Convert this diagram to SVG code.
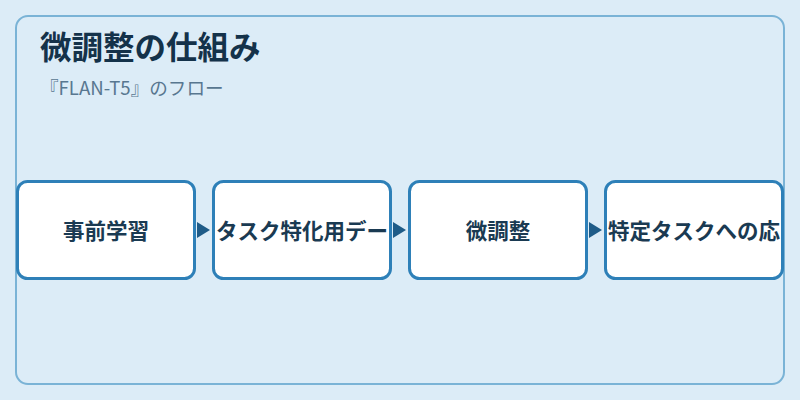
<svg xmlns="http://www.w3.org/2000/svg" width="800" height="400" viewBox="0 0 800 400">
<style>
.title{font-family:"Noto Sans CJK JP","Noto Sans",sans-serif;font-size:31.5px;font-weight:700;fill:#14324a}
.sub{font-family:"Noto Sans CJK JP","Noto Sans",sans-serif;font-size:18.6px;fill:#587790}
.box{fill:#ffffff;stroke:#2e80b8;stroke-width:3}
.lbl{font-family:"Noto Sans CJK JP","Noto Sans",sans-serif;font-size:21.5px;font-weight:700;fill:#1a3a52;text-anchor:middle}
.arr{fill:#1f5c88}
</style>
<rect x="0" y="0" width="800" height="400" fill="#dcecf7"/>
<rect x="16" y="16" width="768" height="368" rx="12" fill="#dcecf7" stroke="#7ab3d6" stroke-width="2"/>
<text class="title" x="40" y="59">微調整の仕組み</text>
<text class="sub" x="40" y="95">『FLAN-T5』のフロー</text>
<g id="connectors">
<polygon class="arr" points="197,222 210,230 197,238"/>
<polygon class="arr" points="393,222 406,230 393,238"/>
<polygon class="arr" points="589,222 602,230 589,238"/>
</g>
<g id="node1"><rect class="box" x="17.5" y="181.5" width="177" height="97" rx="10"/><text class="lbl" x="106" y="238.5">事前学習</text></g>
<g id="node2"><rect class="box" x="213.5" y="181.5" width="177" height="97" rx="10"/><text class="lbl" x="302" y="238.5">タスク特化用デー</text></g>
<g id="node3"><rect class="box" x="409.5" y="181.5" width="177" height="97" rx="10"/><text class="lbl" x="498" y="238.5">微調整</text></g>
<g id="node4"><rect class="box" x="605.5" y="181.5" width="177" height="97" rx="10"/><text class="lbl" x="694" y="238.5">特定タスクへの応</text></g>
</svg>
